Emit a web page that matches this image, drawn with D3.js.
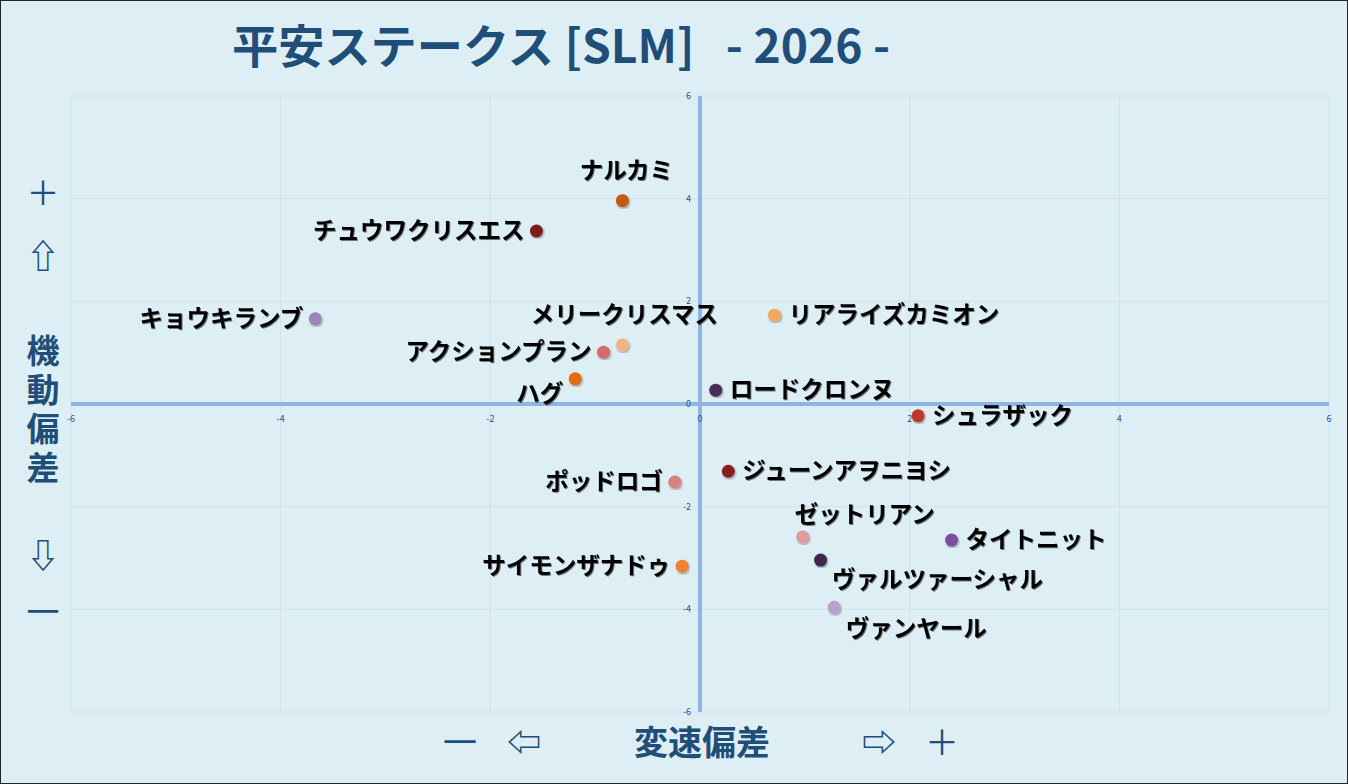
<!DOCTYPE html>
<html><head><meta charset="utf-8">
<script src="https://cdn.jsdelivr.net/npm/d3@7"></script>
<style>
body{margin:0;background:#fff;}
svg{display:block;font-family:"Noto Sans CJK JP","Noto Sans",sans-serif;}
</style></head><body>
<svg id="chart" width="1348" height="784"></svg>
<script>
// horse names and their (変速偏差, 機動偏差) values
const names = ["ナルカミ","チュウワクリスエス","キョウキランブ","メリークリスマス","アクションプラン","ハグ",
  "リアライズカミオン","ロードクロンヌ","シュラザック","ジューンアヲニヨシ","ポッドロゴ","ゼットリアン",
  "タイトニット","ヴァルツァーシャル","サイモンザナドゥ","ヴァンヤール"];
const xVals = [-0.74,-1.56,-3.67,-0.74,-0.92,-1.19,0.71,0.15,2.08,0.27,-0.24,0.98,2.40,1.15,-0.17,1.28];
const yVals = [3.96,3.37,1.66,1.15,1.01,0.49,1.73,0.27,-0.23,-1.31,-1.52,-2.59,-2.65,-3.04,-3.16,-3.96];
const colors = ["#c55a11","#7b1f1f","#9e84b8","#f4b183","#d46a6a","#e46c0a","#f4a860","#4a2a5a","#c0392b",
  "#8b1e1e","#d98080","#e39a9a","#7a4fa0","#3d2650","#f08030","#b9a0c8"];
const ticks = [-6,-4,-2,0,2,4,6];
// label placement: [dx, dy, anchor]
const labelPos = [[4,-22,"middle"],[-12,8,"end"],[-12,8,"end"],[2,-22,"middle"],[-12,8,"end"],[-12,23,"end"],
  [14,8,"start"],[14,8,"start"],[14,8,"start"],[14,8,"start"],[-12,8,"end"],[62,-14,"middle"],
  [14,8,"start"],[117,28,"middle"],[-12,8,"end"],[82,30,"middle"]];

const svg = d3.select("#chart");
svg.append("rect").attr("x",0.5).attr("y",0.5).attr("width",1347).attr("height",783)
  .attr("fill","#ddeef5").attr("stroke","#222").attr("stroke-width",1);

const x = d3.scaleLinear().domain([-6,6]).range([71,1329]);
const y = d3.scaleLinear().domain([-6,6]).range([712,96]);

// grid
const g = svg.append("g");
g.selectAll(".gx").data(ticks).join("line").attr("x1",d=>x(d)).attr("x2",d=>x(d))
  .attr("y1",y(6)).attr("y2",y(-6)).attr("stroke","#cfe2ee").attr("stroke-width",1);
g.selectAll(".gy").data(ticks).join("line").attr("y1",d=>y(d)).attr("y2",d=>y(d))
  .attr("x1",x(-6)).attr("x2",x(6)).attr("stroke","#cfe2ee").attr("stroke-width",1);

// center axes
svg.append("line").attr("x1",x(-6)).attr("x2",x(6)).attr("y1",y(0)).attr("y2",y(0))
  .attr("stroke","#8db4e2").attr("stroke-width",4);
svg.append("line").attr("x1",x(0)).attr("x2",x(0)).attr("y1",y(6)).attr("y2",y(-6))
  .attr("stroke","#8db4e2").attr("stroke-width",4);

// tick labels
svg.selectAll(".tx").data(ticks).join("text").attr("x",d=>x(d)).attr("y",y(0)+18)
  .attr("text-anchor","middle").attr("font-size",9).attr("fill","#2f5597").text(d=>d);
svg.selectAll(".ty").data(ticks).join("text").attr("x",x(0)-9).attr("y",d=>y(d)+3)
  .attr("text-anchor","end").attr("font-size",9).attr("fill","#2f5597").text(d=>d);

// points
const defs = svg.append("defs");
defs.append("filter").attr("id","sh").html('<feDropShadow dx="1" dy="1.5" stdDeviation="1" flood-color="#000" flood-opacity="0.35"/>');
defs.append("filter").attr("id","tsh").html('<feDropShadow dx="1" dy="1" stdDeviation="0.6" flood-color="#000" flood-opacity="0.5"/>');

const pts = names.map((n,i)=>({n, x:xVals[i], y:yVals[i], c:colors[i], p:labelPos[i]}));
svg.selectAll("circle.pt").data(pts).join("circle").attr("class","pt")
  .attr("cx",d=>x(d.x)).attr("cy",d=>y(d.y)).attr("r",6.5).attr("fill",d=>d.c).attr("filter","url(#sh)");
svg.selectAll("text.lb").data(pts).join("text").attr("class","lb")
  .attr("x",d=>x(d.x)+d.p[0]).attr("y",d=>y(d.y)+d.p[1]).attr("text-anchor",d=>d.p[2])
  .attr("font-size",23.5).attr("font-weight","bold").attr("fill","#000").attr("filter","url(#tsh)").text(d=>d.n);

// title and axis captions
const blue = "#1f4e79";
svg.append("text").attr("x",232).attr("y",63).attr("font-size",46)
  .attr("font-weight","bold").attr("fill",blue).attr("xml:space","preserve")
  .attr("textLength",658).attr("lengthAdjust","spacingAndGlyphs")
  .text("平安ステークス [SLM]   - 2026 -");
const yCap = [["＋",205],["⇧",268],["機",363],["動",402],["偏",441],["差",480],["⇩",568],["一",624]];
svg.selectAll(".yc").data(yCap).join("text").attr("x",43).attr("y",d=>d[1]).attr("text-anchor","middle")
  .attr("font-size",33).attr("font-weight",d=>d[0]==="一"||d[0]==="＋"?"normal":"bold").attr("fill",blue).text(d=>d[0]);
const xCap = [["一",460],["⇦",524],["変速偏差",702],["⇨",879],["＋",942]];
svg.selectAll(".xc").data(xCap).join("text").attr("x",d=>d[1]).attr("y",755).attr("text-anchor","middle")
  .attr("font-size",34).attr("font-weight",d=>d[0]==="一"||d[0]==="＋"?"normal":"bold").attr("fill",blue).text(d=>d[0]);
</script>
</body></html>
